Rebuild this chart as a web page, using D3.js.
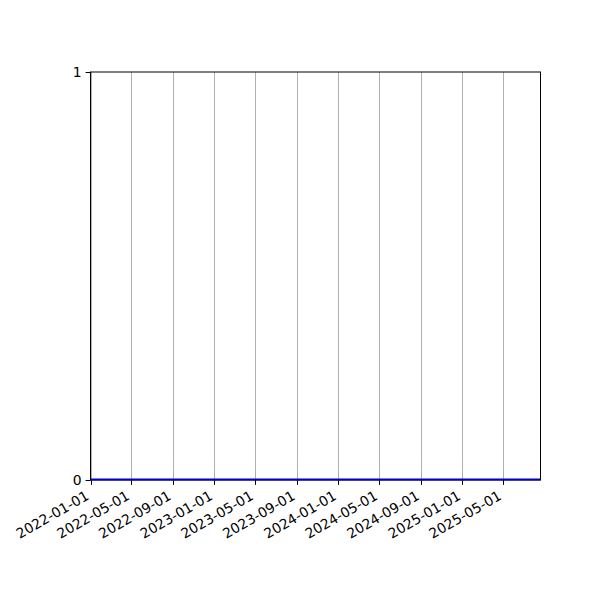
<!DOCTYPE html>
<html><head><meta charset="utf-8">
<script src="https://cdn.jsdelivr.net/npm/d3@7"></script>
<style>body{margin:0;background:#fff}svg{display:block}text{font-family:"DejaVu Sans",sans-serif}</style>
</head><body><svg id="c" width="600" height="600"></svg>
<script>
const dates = ["2022-01-01","2022-04-01","2022-07-01","2022-10-01","2023-01-01","2023-04-01","2023-07-01","2023-10-01","2024-01-01","2024-04-01","2024-07-01","2024-10-01","2025-01-01","2025-04-01","2025-07-01","2025-08-19"];
const values = [0,0,0,0,0,0,0,0,0,0,0,0,0,0,0,0];
const xTickLabels = ["2022-01-01","2022-05-01","2022-09-01","2023-01-01","2023-05-01","2023-09-01","2024-01-01","2024-05-01","2024-09-01","2025-01-01","2025-05-01"];
const yTicks = [0,1];

const parse = d3.utcParse("%Y-%m-%d");
const data = dates.map((d,i)=>({date:parse(d), value:values[i]}));
const L=90.5,R=540.5,T=72,B=480;
const svg=d3.select("#c");
const x=d3.scaleUtc().domain(d3.extent(data,d=>d.date)).range([L,R]);
const y=d3.scaleLinear().domain([0,1]).range([B,T]);
const xt=xTickLabels.map(parse);
const fmt=d3.utcFormat("%Y-%m-%d");

// grid
svg.append("g").selectAll("line").data(xt).join("line")
 .attr("x1",d=>Math.round(x(d))+0.5).attr("x2",d=>Math.round(x(d))+0.5).attr("y1",T).attr("y2",B)
 .attr("stroke","#b0b0b0").attr("stroke-width",1);

const lineGen=d3.line().x(d=>x(d.date)).y(d=>y(d.value));

// x ticks
const xa=svg.append("g");
xa.selectAll("line").data(xt).join("line")
 .attr("x1",d=>Math.round(x(d))+0.5).attr("x2",d=>Math.round(x(d))+0.5)
 .attr("y1",B).attr("y2",B+4.9).attr("stroke","#000").attr("stroke-width",1);
xa.selectAll("text").data(xt).join("text")
 .attr("transform",d=>`translate(${x(d)-6},${B+9.5}) rotate(-30)`)
 .attr("text-anchor","end").attr("dy","0.76em")
 .attr("font-size","13.9px").attr("fill","#000").text(d=>fmt(d));

// y axis
const ya=svg.append("g").attr("transform",`translate(${L},0)`)
 .call(d3.axisLeft(y).tickValues(yTicks).tickFormat(d3.format("d")).tickSize(4.9).tickPadding(4));
ya.select(".domain").remove();
ya.selectAll("line").attr("stroke","#000").attr("stroke-width",1);
ya.selectAll("text").attr("font-size","13.9px").attr("fill","#000");

// spines
svg.append("rect").attr("x",L).attr("y",T).attr("width",R-L).attr("height",B-T)
 .attr("fill","none").attr("stroke","#000").attr("stroke-width",1);
svg.append("path").datum(data)
 .attr("d",lineGen).attr("transform","translate(0,-0.5)")
 .attr("fill","none").attr("stroke","#0000cc").attr("stroke-width",1.8);
</script></body></html>
